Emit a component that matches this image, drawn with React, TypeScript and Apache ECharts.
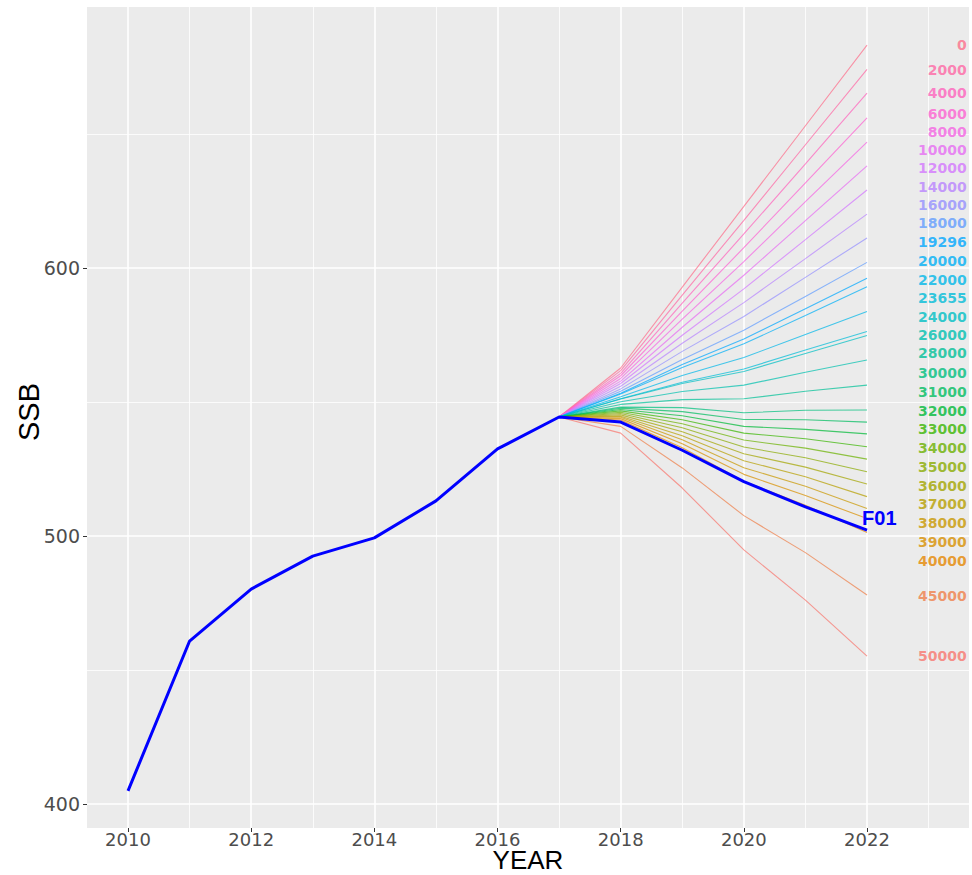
import React, { useEffect, useRef } from "react";
import * as echarts from "echarts";

// ---- data ----
const YEARS_HIST = [2010, 2011, 2012, 2013, 2014, 2015, 2016, 2017, 2018, 2019, 2020, 2021, 2022];
const SSB_F01 = [404.9, 460.8, 480.2, 492.5, 499.3, 513.1, 532.5, 544.4, 542.5, 532.0, 520.3, 510.9, 502.2];

const F_LEVELS = ["0", "2000", "4000", "6000", "8000", "10000", "12000", "14000", "16000", "18000", "19296", "20000", "22000", "23655", "24000", "26000", "28000", "30000", "31000", "32000", "33000", "34000", "35000", "36000", "37000", "38000", "39000", "40000", "45000", "50000"];
const PROJ_YEARS = [2017, 2018, 2019, 2020, 2021, 2022];
const SSB_2018 = [562.7, 561.7, 560.7, 559.8, 558.8, 557.8, 556.9, 555.9, 554.9, 554.0, 553.3, 553.0, 552.0, 551.2, 551.1, 550.1, 549.1, 548.1, 547.7, 547.2, 546.7, 546.2, 545.7, 545.2, 544.7, 544.3, 543.8, 543.3, 540.9, 538.4];
const SSB_2019 = [592.9, 589.9, 586.9, 583.9, 580.9, 577.9, 574.9, 571.9, 568.9, 565.9, 564.0, 562.9, 559.9, 557.4, 556.9, 553.9, 550.9, 547.9, 546.4, 544.9, 543.4, 541.9, 540.4, 538.9, 537.4, 535.9, 534.4, 532.9, 525.4, 517.9];
const SSB_2020 = [623.0, 617.8, 612.7, 607.6, 602.4, 597.3, 592.2, 587.1, 581.9, 576.8, 573.5, 571.7, 566.6, 562.3, 561.4, 556.3, 551.2, 546.0, 543.5, 540.9, 538.4, 535.8, 533.2, 530.7, 528.1, 525.5, 523.0, 520.4, 507.6, 494.8];
const SSB_2021 = [653.1, 646.0, 638.9, 631.8, 624.8, 617.7, 610.6, 603.5, 596.5, 589.4, 584.8, 582.3, 575.2, 569.4, 568.1, 561.1, 554.0, 546.9, 543.4, 539.8, 536.3, 532.8, 529.2, 525.7, 522.1, 518.6, 515.1, 511.5, 493.8, 476.1];
const SSB_2022 = [683.2, 674.1, 665.3, 656.0, 647.0, 638.1, 629.1, 620.1, 611.2, 602.1, 596.2, 593.0, 583.8, 576.3, 574.8, 565.7, 556.3, 547.0, 542.5, 538.1, 533.3, 528.7, 524.0, 519.4, 514.7, 510.3, 506.5, 501.3, 478.0, 455.2];
// repelled label positions (SSB units)
const LABEL_SSB = [683.2, 673.9, 665.2, 657.5, 650.9, 644.0, 637.2, 630.3, 623.5, 616.7, 609.8, 602.7, 595.5, 588.7, 581.8, 575.0, 568.2, 560.9, 553.8, 546.8, 539.8, 532.7, 525.9, 518.7, 511.8, 504.7, 497.9, 490.8, 477.6, 455.3];
const F01_LABEL = "F01";
const F01_LABEL_POS = [2021.92, 506.7];
const LABEL_X = 2023.62;

const X_TICKS = [2010, 2012, 2014, 2016, 2018, 2020, 2022];
const X_MINOR = [2011, 2013, 2015, 2017, 2019, 2021, 2023];
const Y_TICKS = [400, 500, 600];
const Y_MINOR = [450, 550, 650];

// ggplot-like HCL hue colour
function hcl(h: number, c = 100, l = 65): string {
  const hr = (h * Math.PI) / 180;
  const U = c * Math.cos(hr);
  const V = c * Math.sin(hr);
  const Xn = 95.047, Yn = 100, Zn = 108.883;
  const Y = l > 8 ? Yn * Math.pow((l + 16) / 116, 3) : (Yn * l) / 903.3;
  const d = Xn + 15 * Yn + 3 * Zn;
  const un = (4 * Xn) / d;
  const vn = (9 * Yn) / d;
  const up = U / (13 * l) + un;
  const vp = V / (13 * l) + vn;
  const X = (Y * 9 * up) / (4 * vp);
  const Z = (Y * (12 - 3 * up - 20 * vp)) / (4 * vp);
  const x = X / 100, y = Y / 100, z = Z / 100;
  const lin = [
    3.2404542 * x - 1.5371385 * y - 0.4985314 * z,
    -0.969266 * x + 1.8760108 * y + 0.041556 * z,
    0.0556434 * x - 0.2040259 * y + 1.0572252 * z,
  ];
  const hex = lin
    .map((v) => {
      let g = v <= 0.0031308 ? 12.92 * v : 1.055 * Math.pow(v, 1 / 2.4) - 0.055;
      g = Math.max(0, Math.min(1, g));
      const s = Math.round(g * 255).toString(16);
      return s.length === 1 ? "0" + s : s;
    })
    .join("");
  return "#" + hex;
}

export default function App() {
  const ref = useRef<HTMLDivElement>(null);

  useEffect(() => {
    if (!ref.current) return;
    const chart = echarts.init(ref.current, undefined, { renderer: "svg" });
    const n = F_LEVELS.length;
    const colors = F_LEVELS.map((_, i) => hcl(15 + (n - 1 - i) * 12));

    const fanSeries = F_LEVELS.map((f, i) => ({
      type: "line",
      name: f,
      z: 10,
      silent: true,
      showSymbol: false,
      symbol: "none",
      lineStyle: { color: colors[i], width: 1.1, opacity: 0.72 },
      data: PROJ_YEARS.map((yr, k) => [
        yr,
        [SSB_F01[7], SSB_2018[i], SSB_2019[i], SSB_2020[i], SSB_2021[i], SSB_2022[i]][k],
      ]),
    }));

    const gridLineSeries = (xs: number[], ys: number[], width: number, z: number) => ({
      type: "line",
      z,
      silent: true,
      data: [],
      markLine: {
        z,
        silent: true,
        symbol: ["none", "none"],
        label: { show: false },
        animation: false,
        lineStyle: { color: "#ffffff", width, type: "solid", opacity: 1 },
        data: [...xs.map((v) => ({ xAxis: v })), ...ys.map((v) => ({ yAxis: v }))],
      },
    });

    const tickFont = { fontFamily: "DejaVu Sans", fontSize: 18, color: "#4D4D4D" };

    chart.setOption({
      animation: false,
      backgroundColor: "#ffffff",
      grid: {
        left: 87,
        top: 7,
        right: 3,
        bottom: 47,
        show: true,
        backgroundColor: "#EBEBEB",
        borderWidth: 0,
        containLabel: false,
      },
      xAxis: {
        type: "value",
        min: 2009.334,
        max: 2023.656,
        axisLine: { show: false },
        splitLine: { show: false },
        axisTick: { show: true, customValues: X_TICKS, length: 4, lineStyle: { color: "#333333", width: 1 } },
        axisLabel: { customValues: X_TICKS, margin: 2, lineHeight: 18, formatter: (v: number) => String(v), ...tickFont },
      },
      yAxis: {
        type: "value",
        min: 391.04,
        max: 697.4,
        axisLine: { show: false },
        splitLine: { show: false },
        axisTick: { show: true, customValues: Y_TICKS, length: 4, lineStyle: { color: "#333333", width: 1 } },
        axisLabel: { customValues: Y_TICKS, margin: 7, formatter: (v: number) => String(v), ...tickFont, fontSize: 19 },
      },
      series: [
        gridLineSeries(X_MINOR, Y_MINOR, 0.8, 1),
        gridLineSeries(X_TICKS, Y_TICKS, 1.6, 2),
        ...fanSeries,
        {
          type: "line",
          name: "F01",
          z: 20,
          silent: true,
          showSymbol: false,
          symbol: "none",
          lineStyle: { color: "#0000FF", width: 3 },
          data: YEARS_HIST.map((yr, k) => [yr, SSB_F01[k]]),
        },
        {
          type: "scatter",
          z: 30,
          silent: true,
          symbolSize: 0,
          data: LABEL_SSB.map((v, i) => ({
            value: [LABEL_X, v],
            label: { color: colors[i] },
          })),
          label: {
            show: true,
            position: "left",
            distance: 0,
            fontFamily: "DejaVu Sans",
            fontWeight: "bold",
            fontSize: 14,
            textBorderWidth: 0,
            formatter: (p: any) => F_LEVELS[p.dataIndex],
          },
        },
        {
          type: "scatter",
          z: 31,
          silent: true,
          symbolSize: 0,
          data: [{ value: F01_LABEL_POS }],
          label: {
            show: true,
            position: "right",
            distance: 0,
            fontFamily: "Liberation Sans",
            fontWeight: "bold",
            fontSize: 20,
            color: "#0000FF",
            opacity: 1,
            textBorderWidth: 0,
            formatter: F01_LABEL,
          },
        },
      ],
      graphic: [
        {
          type: "text",
          x: 528,
          y: 860,
          style: {
            text: "YEAR",
            font: '26px "Liberation Sans"',
            lineHeight: 24,
            fill: "#000000",
            textAlign: "center",
            textVerticalAlign: "middle",
          },
        },
        {
          type: "text",
          x: 29,
          y: 412,
          rotation: Math.PI / 2,
          style: {
            text: "SSB",
            font: '29px "Liberation Sans"',
            fill: "#000000",
            textAlign: "center",
            textVerticalAlign: "middle",
          },
        },
      ],
    });

    return () => chart.dispose();
  }, []);

  return (
    <div
      ref={ref}
      style={{ position: "absolute", left: 0, top: 0, width: 972, height: 875 }}
    />
  );
}
